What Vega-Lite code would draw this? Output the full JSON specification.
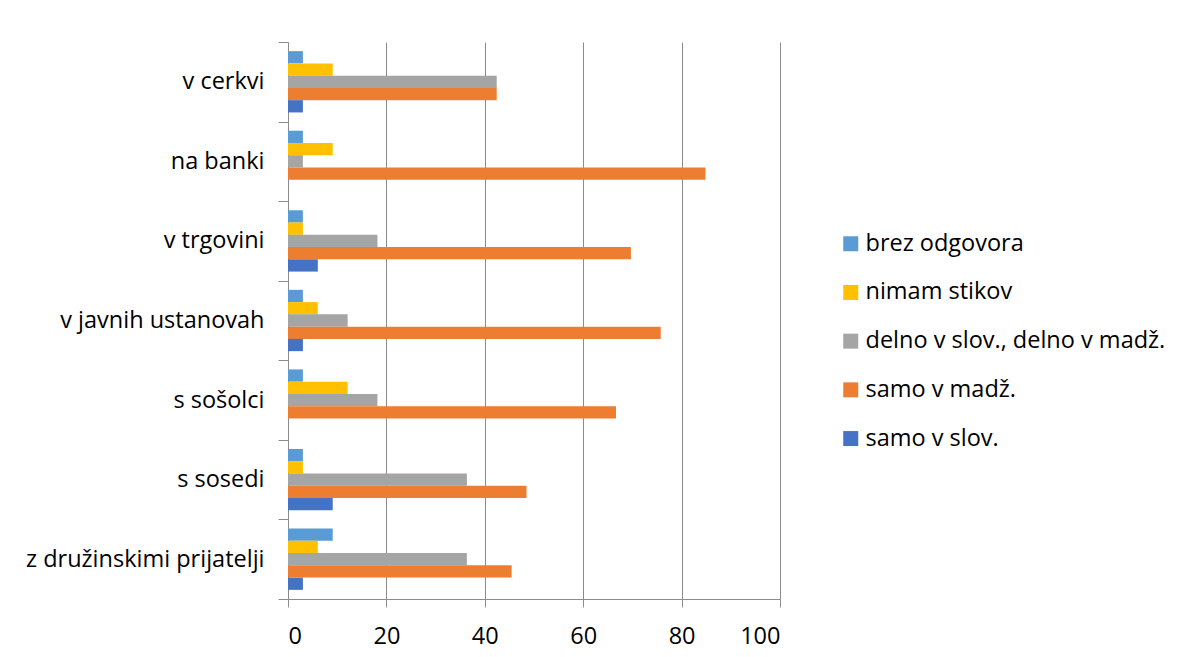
{
  "$schema": "https://vega.github.io/schema/vega-lite/v6.json",
  "width": 492,
  "height": 557,
  "autosize": {"type": "none"},
  "padding": {"left": 288, "top": 42, "right": 404, "bottom": 58},
  "background": "white",
  "config": {
    "view": {"stroke": null},
    "font": "Open Sans"
  },
  "data": {
    "values": [
      {"kraj": "v cerkvi", "odgovor": "brez odgovora", "delez": 3.03},
      {"kraj": "v cerkvi", "odgovor": "nimam stikov", "delez": 9.09},
      {"kraj": "v cerkvi", "odgovor": "delno v slov., delno v madž.", "delez": 42.42},
      {"kraj": "v cerkvi", "odgovor": "samo v madž.", "delez": 42.42},
      {"kraj": "v cerkvi", "odgovor": "samo v slov.", "delez": 3.03},
      {"kraj": "na banki", "odgovor": "brez odgovora", "delez": 3.03},
      {"kraj": "na banki", "odgovor": "nimam stikov", "delez": 9.09},
      {"kraj": "na banki", "odgovor": "delno v slov., delno v madž.", "delez": 3.03},
      {"kraj": "na banki", "odgovor": "samo v madž.", "delez": 84.85},
      {"kraj": "na banki", "odgovor": "samo v slov.", "delez": 0},
      {"kraj": "v trgovini", "odgovor": "brez odgovora", "delez": 3.03},
      {"kraj": "v trgovini", "odgovor": "nimam stikov", "delez": 3.03},
      {"kraj": "v trgovini", "odgovor": "delno v slov., delno v madž.", "delez": 18.18},
      {"kraj": "v trgovini", "odgovor": "samo v madž.", "delez": 69.7},
      {"kraj": "v trgovini", "odgovor": "samo v slov.", "delez": 6.06},
      {"kraj": "v javnih ustanovah", "odgovor": "brez odgovora", "delez": 3.03},
      {"kraj": "v javnih ustanovah", "odgovor": "nimam stikov", "delez": 6.06},
      {"kraj": "v javnih ustanovah", "odgovor": "delno v slov., delno v madž.", "delez": 12.12},
      {"kraj": "v javnih ustanovah", "odgovor": "samo v madž.", "delez": 75.76},
      {"kraj": "v javnih ustanovah", "odgovor": "samo v slov.", "delez": 3.03},
      {"kraj": "s sošolci", "odgovor": "brez odgovora", "delez": 3.03},
      {"kraj": "s sošolci", "odgovor": "nimam stikov", "delez": 12.12},
      {"kraj": "s sošolci", "odgovor": "delno v slov., delno v madž.", "delez": 18.18},
      {"kraj": "s sošolci", "odgovor": "samo v madž.", "delez": 66.67},
      {"kraj": "s sošolci", "odgovor": "samo v slov.", "delez": 0},
      {"kraj": "s sosedi", "odgovor": "brez odgovora", "delez": 3.03},
      {"kraj": "s sosedi", "odgovor": "nimam stikov", "delez": 3.03},
      {"kraj": "s sosedi", "odgovor": "delno v slov., delno v madž.", "delez": 36.36},
      {"kraj": "s sosedi", "odgovor": "samo v madž.", "delez": 48.48},
      {"kraj": "s sosedi", "odgovor": "samo v slov.", "delez": 9.09},
      {"kraj": "z družinskimi prijatelji", "odgovor": "brez odgovora", "delez": 9.09},
      {"kraj": "z družinskimi prijatelji", "odgovor": "nimam stikov", "delez": 6.06},
      {"kraj": "z družinskimi prijatelji", "odgovor": "delno v slov., delno v madž.", "delez": 36.36},
      {"kraj": "z družinskimi prijatelji", "odgovor": "samo v madž.", "delez": 45.45},
      {"kraj": "z družinskimi prijatelji", "odgovor": "samo v slov.", "delez": 3.03}
    ]
  },
  "mark": {"type": "bar"},
  "encoding": {
    "y": {
      "field": "kraj",
      "type": "nominal",
      "sort": ["v cerkvi", "na banki", "v trgovini", "v javnih ustanovah", "s sošolci", "s sosedi", "z družinskimi prijatelji"],
      "scale": {"paddingInner": 0, "paddingOuter": 0},
      "axis": {
        "title": null,
        "tickBand": "extent",
        "tickSize": 10,
        "tickColor": "#8c8c8c",
        "domainColor": "#8c8c8c",
        "labelPadding": 14,
        "labelFontSize": 23.5,
        "labelColor": "#000000",
        "labelLimit": 400,
        "grid": false
      }
    },
    "yOffset": {
      "field": "odgovor",
      "type": "nominal",
      "sort": ["brez odgovora", "nimam stikov", "delno v slov., delno v madž.", "samo v madž.", "samo v slov."],
      "scale": {"paddingInner": 0, "paddingOuter": 0.745}
    },
    "x": {
      "field": "delez",
      "type": "quantitative",
      "scale": {"domain": [0, 100], "nice": false},
      "axis": {
        "title": null,
        "values": [0, 20, 40, 60, 80, 100],
        "grid": true,
        "gridColor": "#8c8c8c",
        "gridWidth": 1,
        "tickSize": 8,
        "tickColor": "#8c8c8c",
        "domainColor": "#8c8c8c",
        "labelPadding": 17,
        "labelFontSize": 23.5,
        "labelColor": "#000000"
      }
    },
    "color": {
      "field": "odgovor",
      "type": "nominal",
      "scale": {
        "domain": ["brez odgovora", "nimam stikov", "delno v slov., delno v madž.", "samo v madž.", "samo v slov."],
        "range": ["#5b9bd5", "#ffc000", "#a5a5a5", "#ed7d31", "#4472c4"]
      },
      "legend": {
        "title": null,
        "orient": "none",
        "legendX": 551,
        "legendY": 190,
        "padding": 0,
        "symbolType": "square",
        "symbolSize": 225,
        "symbolStrokeWidth": 0,
        "labelFontSize": 23.5,
        "labelColor": "#000000",
        "labelOffset": 3,
        "labelLimit": 400,
        "rowPadding": 23.7
      }
    }
  }
}
